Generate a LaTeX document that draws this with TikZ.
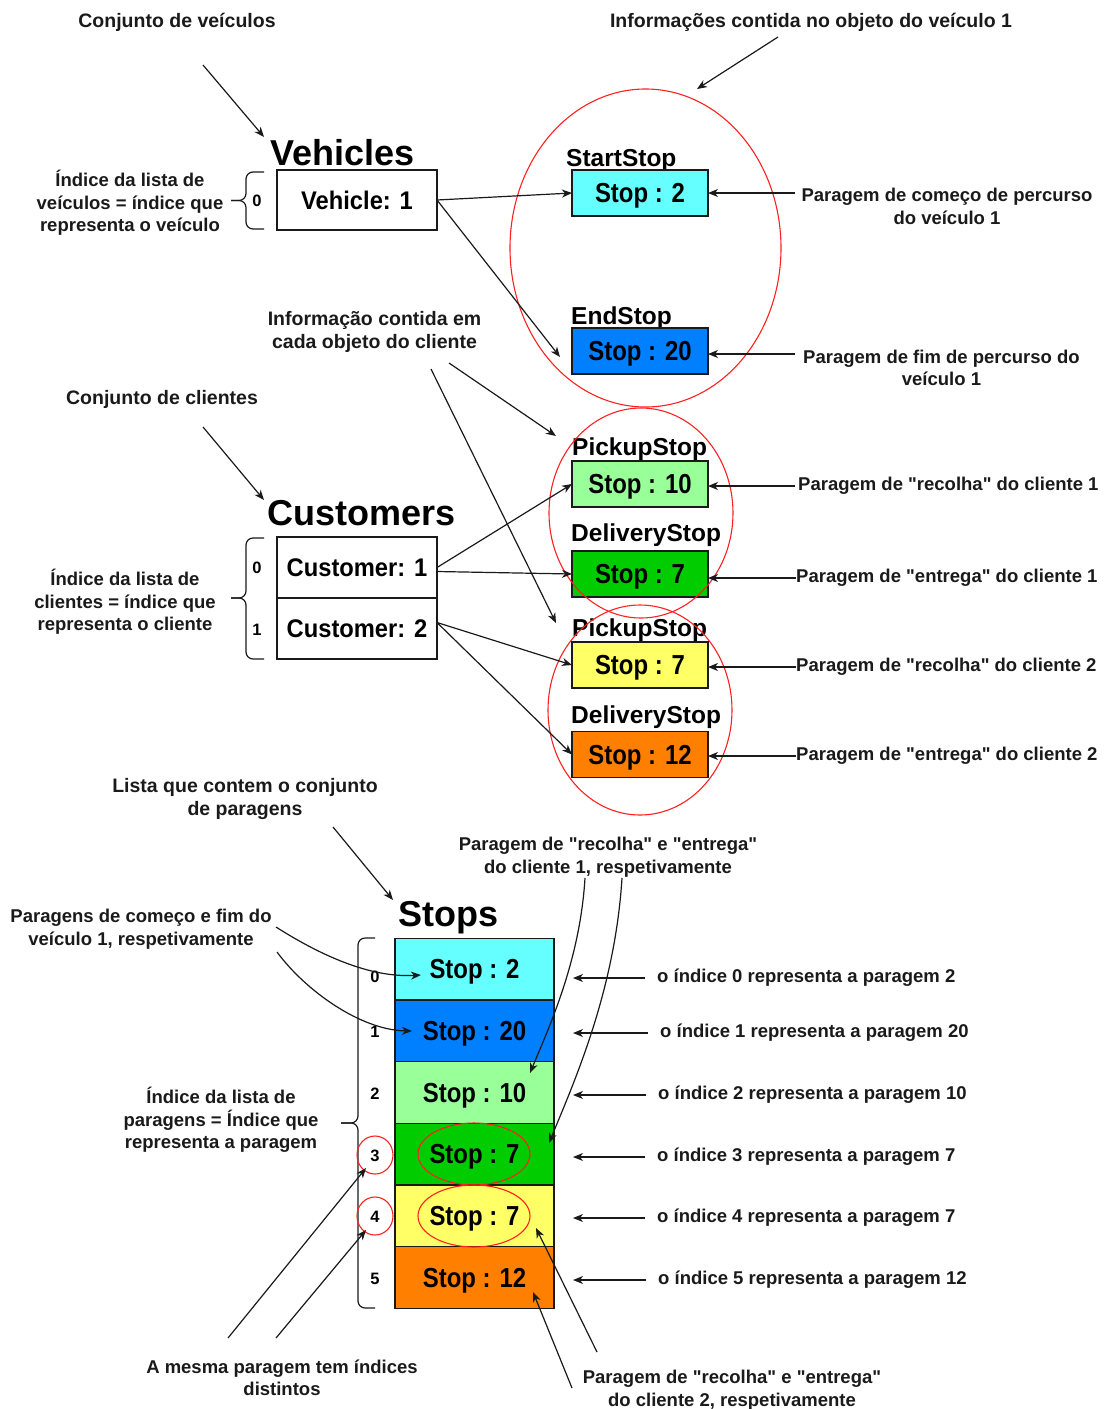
\documentclass[tikz,border=0pt]{standalone}
\usepackage{fontspec}
\setmainfont{Liberation Sans}[Ligatures=TeXOff]
\newfontfamily\narrowsans{Liberation Sans}[Ligatures=TeXOff, FakeStretch=0.87]
\newfontfamily\semisans{Liberation Sans}[Ligatures=TeXOff, FakeStretch=0.93]
\usetikzlibrary{arrows.meta,calc}

\newcommand\fsLabel{\fontsize{18.5}{22.5}\selectfont\bfseries}
\newcommand\fsHead{\fontsize{19.5}{23.5}\selectfont\bfseries}
\newcommand\fsObj{\semisans\fontsize{25.5}{29}\selectfont\bfseries}
\newcommand\fsStop{\narrowsans\fontsize{27.5}{31}\selectfont\bfseries}
\newcommand\fsCap{\fontsize{24.5}{28}\selectfont\bfseries}
\newcommand\fsTitle{\fontsize{36}{40}\selectfont\bfseries}
\newcommand\fsIdx{\fontsize{16.5}{20}\selectfont\bfseries}

\definecolor{cyanfill}{HTML}{66FFFF}
\definecolor{bluefill}{HTML}{007FFF}
\definecolor{lgreenfill}{HTML}{99FF99}
\definecolor{greenfill}{HTML}{00CC00}
\definecolor{yellowfill}{HTML}{FFFF66}
\definecolor{orangefill}{HTML}{FF8000}
\definecolor{ink}{HTML}{1A1A1A}
\definecolor{ringred}{HTML}{FF2020}

\tikzset{
  note/.style={font=\fsLabel, align=center, inner sep=0pt, text=ink, yshift=-2pt},
  headnote/.style={note, font=\fsHead},
  notew/.style={note, anchor=west, align=left},
  heading/.style={font=\fsTitle, anchor=west, inner sep=0pt, text height=26pt, text depth=0pt},
  caption/.style={font=\fsCap, anchor=west, inner sep=0pt, text height=17.5pt, text depth=0pt},
  idx/.style={font=\fsIdx, inner sep=0pt, text height=12pt, text depth=0pt},
  objbox/.style={draw=ink, line width=1.3pt, fill=white, minimum width=160pt, minimum height=61pt,
                 inner sep=0pt, outer sep=0pt, font=\fsObj, text height=18.3pt, text depth=0pt},
  stopbox/.style={draw=ink, line width=1.3pt, minimum width=136pt, minimum height=46pt,
                  inner sep=0pt, outer sep=0pt, font=\fsStop, text height=19.7pt, text depth=0pt},
  cell/.style={draw=ink, line width=1.3pt, minimum width=159pt, minimum height=61.7pt,
               inner sep=0pt, outer sep=0pt, font=\fsStop, text height=19.7pt, text depth=0pt},
  arr/.style={draw=ink, line width=1.2pt, -{Stealth[length=10pt,width=8pt,inset=3pt]}},
  ring/.style={draw=ringred, line width=1.1pt},
  brace/.style={draw=ink, line width=1.2pt, rounded corners=7pt},
}

\begin{document}
\begin{tikzpicture}[x=1pt,y=-1pt]
\useasboundingbox (0,0) rectangle (1105,1409);

% ---------------- Vehicles ----------------
\node[headnote] (vehSet) at (177,20) {Conjunto de veículos};
\node[headnote] (vehInfo) at (811,20) {Informações contida no objeto do veículo 1};
\node[heading] (vehTitle) at (270,152) {Vehicles};
\node[objbox, minimum height=60pt] (veh) at (357,200) {Vehicle: 1};
\node[idx] (vehIdx) at (257,200) {0};
\node[note] (vehIdxNote) at (130,201) {Índice da lista de\\veículos = índice que\\representa o veículo};
\draw[brace] (264,172) -- (246,172) -- (246,200.5) -- (231,200.5);
\draw[brace] (264,229) -- (246,229) -- (246,200.5) -- (231,200.5);

\node[caption] (startCap) at (566,158) {StartStop};
\node[stopbox, fill=cyanfill] (sStart) at (640,193) {Stop : 2};
\node[caption] (endCap) at (571,316) {EndStop};
\node[stopbox, fill=bluefill] (sEnd) at (640,351) {Stop : 20};
\draw[ring] (645.5,248) ellipse [x radius=135.5pt, y radius=159pt];

\node[note] (startNote) at (947,204.5) {Paragem de começo de percurso\\do veículo 1};
\node[note] (endNote) at (941.5,366) {Paragem de fim de percurso do\\veículo 1};

\coordinate (vehSetTail) at (203,65);
\coordinate (vehSetTip) at (264,137);
\coordinate (vehInfoTail) at (778,37);
\coordinate (vehInfoTip) at (697,89);
\coordinate (endTip) at (560,357);
\coordinate (startNoteTail) at (795,193);
\coordinate (endNoteTail) at (795,354);

\draw[arr] (vehSetTail) -- (vehSetTip);
\draw[arr] (vehInfoTail) -- (vehInfoTip);
\draw[arr] (veh.east) -- (sStart.west);
\draw[arr] (veh.east) -- (endTip);
\draw[arr] (startNoteTail) -- (startNoteTail -| sStart.east);
\draw[arr] (endNoteTail) -- (endNoteTail -| sEnd.east);

% ---------------- Customers ----------------
\node[headnote] (custInfo) at (374.5,330) {Informação contida em\\cada objeto do cliente};
\node[headnote] (custSet) at (162,397) {Conjunto de clientes};
\node[heading] (custTitle) at (267,512) {Customers};
\node[objbox] (c1) at (357,567.5) {Customer: 1};
\node[objbox] (c2) at (357,628.5) {Customer: 2};
\node[idx] (c1Idx) at (257,567) {0};
\node[idx] (c2Idx) at (257,629) {1};
\node[note] (custIdxNote) at (125,600) {Índice da lista de\\clientes = índice que\\representa o cliente};
\draw[brace] (264,538) -- (246,538) -- (246,598) -- (231,598);
\draw[brace] (264,659) -- (246,659) -- (246,598) -- (231,598);

\node[caption] (p1Cap) at (572,447) {PickupStop};
\node[stopbox, fill=lgreenfill] (p1) at (640,484) {Stop : 10};
\node[caption] (d1Cap) at (571,533) {DeliveryStop};
\node[stopbox, fill=greenfill] (d1) at (640,574) {Stop : 7};
\node[caption] (p2Cap) at (572,628) {PickupStop};
\node[stopbox, fill=yellowfill] (p2) at (640,665) {Stop : 7};
\node[caption] (d2Cap) at (571,715) {DeliveryStop};
\node[stopbox, fill=orangefill] (d2) at (640,754.5) {Stop : 12};
\draw[ring] (641,513) ellipse [x radius=92pt, y radius=105pt];
\draw[ring] (640,710) ellipse [x radius=92pt, y radius=105pt];

\node[notew] (p1Note) at (798,484) {Paragem de "recolha" do cliente 1};
\node[notew] (d1Note) at (796,576) {Paragem de "entrega" do cliente 1};
\node[notew] (p2Note) at (796,665) {Paragem de "recolha" do cliente 2};
\node[notew] (d2Note) at (796,754) {Paragem de "entrega" do cliente 2};

\coordinate (custSetTail) at (203,427);
\coordinate (custSetTip) at (264,500);
\coordinate (custInfoTailA) at (449,363);
\coordinate (custInfoTipA) at (556,436);
\coordinate (custInfoTailB) at (431,369);
\coordinate (custInfoTipB) at (556,623);

\draw[arr] (custSetTail) -- (custSetTip);
\draw[arr] (custInfoTailA) -- (custInfoTipA);
\draw[arr] (custInfoTailB) -- (custInfoTipB);
\draw[arr] (c1.east) -- (p1.west);
\draw[arr] ($(c1.east)+(0,4)$) -- (d1.west);
\draw[arr] ($(c2.east)+(0,-6)$) -- (p2.west);
\draw[arr] ($(c2.east)+(0,-6)$) -- (d2.west);
\draw[arr] ($(p1Note.west)+(-3,0)$) -- (p1Note.west -| p1.east);
\draw[arr] (d1Note.west) -- (d1Note.west -| d1.east);
\draw[arr] (p2Note.west) -- (p2Note.west -| p2.east);
\draw[arr] (d2Note.west) -- (d2Note.west -| d2.east);

% ---------------- Stops ----------------
\node[headnote] (stopSet) at (245,797) {Lista que contem o conjunto\\de paragens};
\node[heading] (stopTitle) at (398,913) {Stops};
\node[cell, fill=cyanfill]   (k0) at (474.5,969)    {Stop : 2};
\node[cell, fill=bluefill]   (k1) at (474.5,1030.7) {Stop : 20};
\node[cell, fill=lgreenfill] (k2) at (474.5,1092.4) {Stop : 10};
\node[cell, fill=greenfill]  (k3) at (474.5,1154.1) {Stop : 7};
\node[cell, fill=yellowfill] (k4) at (474.5,1215.8) {Stop : 7};
\node[cell, fill=orangefill] (k5) at (474.5,1277.5) {Stop : 12};
\draw[ring] (474,1154) ellipse [x radius=56pt, y radius=31pt];
\draw[ring] (474,1216) ellipse [x radius=56pt, y radius=31pt];

\node[idx] (i0) at (375,976) {0};
\node[idx] (i1) at (375,1031) {1};
\node[idx] (i2) at (375,1093) {2};
\node[idx] (i3) at (375,1155) {3};
\node[idx] (i4) at (375,1216) {4};
\node[idx] (i5) at (375,1278) {5};
\draw[brace] (375,938) -- (358,938) -- (358,1123) -- (341,1123);
\draw[brace] (375,1308) -- (358,1308) -- (358,1123) -- (341,1123);
\draw[ring] (i3) ellipse [x radius=18pt, y radius=19pt];
\draw[ring] (i4) ellipse [x radius=18pt, y radius=19pt];

\node[note] (stopIdxNote) at (221,1118) {Índice da lista de\\paragens = Índice que\\representa a paragem};
\node[note] (vehPairNote) at (141,927) {Paragens de começo e fim do\\veículo 1, respetivamente};
\node[note] (c1PairNote) at (608,855) {Paragem de "recolha" e "entrega"\\do cliente 1, respetivamente};
\node[note] (sameNote) at (282,1376) {A mesma paragem tem índices\\distintos};
\node[note] (c2PairNote) at (732,1388) {Paragem de "recolha" e "entrega"\\do cliente 2, respetivamente};

\node[notew] (r0) at (657,976)  {o índice 0 representa a paragem 2};
\node[notew] (r1) at (660,1031) {o índice 1 representa a paragem 20};
\node[notew] (r2) at (658,1093) {o índice 2 representa a paragem 10};
\node[notew] (r3) at (657,1155) {o índice 3 representa a paragem 7};
\node[notew] (r4) at (657,1216) {o índice 4 representa a paragem 7};
\node[notew] (r5) at (658,1278) {o índice 5 representa a paragem 12};

\foreach \r/\k in {r0/k0, r1/k1, r2/k2, r3/k3, r4/k4, r5/k5}
  \draw[arr, shorten <=12pt, shorten >=19pt] (\r.west) -- (\r.west -| \k.east);

\coordinate (stopSetTail) at (333,827);
\coordinate (stopSetTip) at (393,900);
\draw[arr] (stopSetTail) -- (stopSetTip);

\coordinate (vehPairTailA) at (276,927);
\coordinate (vehPairTipA) at (421,975);
\coordinate (vehPairTailB) at (277,952);
\coordinate (vehPairTipB) at (412,1031);
\draw[arr] (vehPairTailA) .. controls (320,955) and (370,978) .. (vehPairTipA);
\draw[arr] (vehPairTailB) .. controls (305,990) and (360,1030) .. (vehPairTipB);

\coordinate (c1PairTailA) at (585,878);
\coordinate (c1PairTipA) at (530,1073);
\coordinate (c1PairTailB) at (622,878);
\coordinate (c1PairTipB) at (549,1143);
\draw[arr] (c1PairTailA) .. controls (580,960) and (550,1025) .. (c1PairTipA);
\draw[arr] (c1PairTailB) .. controls (615,990) and (575,1080) .. (c1PairTipB);

\coordinate (sameTailA) at (228,1338);
\coordinate (sameTipA) at (366,1168);
\coordinate (sameTailB) at (276,1338);
\coordinate (sameTipB) at (366,1230);
\draw[arr] (sameTailA) -- (sameTipA);
\draw[arr] (sameTailB) -- (sameTipB);

\coordinate (c2PairTailA) at (597,1352);
\coordinate (c2PairTipA) at (536,1228);
\coordinate (c2PairTailB) at (572,1388);
\coordinate (c2PairTipB) at (533,1292);
\draw[arr] (c2PairTailA) -- (c2PairTipA);
\draw[arr] (c2PairTailB) -- (c2PairTipB);
\end{tikzpicture}
\end{document}
